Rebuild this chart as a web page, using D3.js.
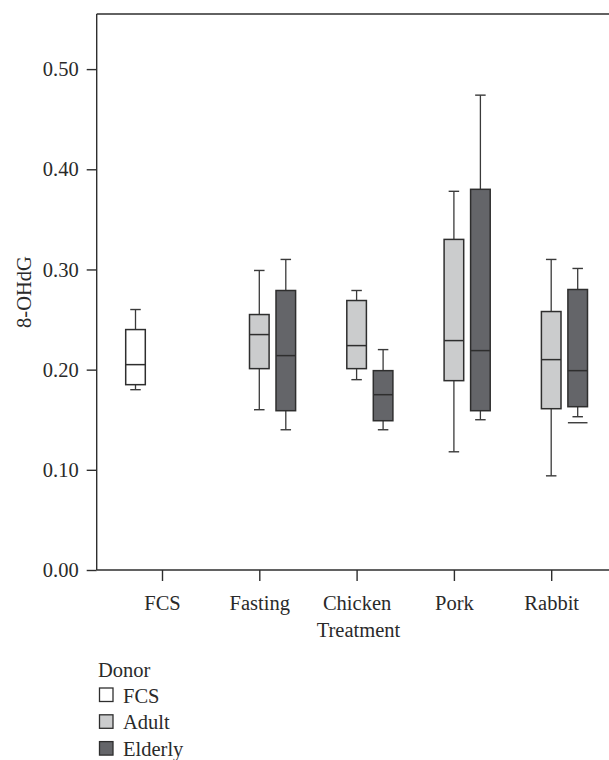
<!DOCTYPE html>
<html>
<head>
<meta charset="utf-8">
<script src="https://cdn.jsdelivr.net/npm/d3@7"></script>
<style>
  body { margin: 0; background: #fff; }
  svg { display: block; font-family: "Liberation Serif", "DejaVu Serif", serif; }
</style>
</head>
<body>
<div id="chart"></div>
<script>
// categories
const treatments = ['FCS', 'Fasting', 'Chicken', 'Pork', 'Rabbit'];
const donors = ['FCS', 'Adult', 'Elderly'];
const yTicks = [0, 0.1, 0.2, 0.3, 0.4, 0.5];

// one entry per box (treatment x donor)
const boxTreatment = ['FCS', 'Fasting', 'Fasting', 'Chicken', 'Chicken', 'Pork', 'Pork', 'Rabbit', 'Rabbit'];
const boxDonor = ['FCS', 'Adult', 'Elderly', 'Adult', 'Elderly', 'Adult', 'Elderly', 'Adult', 'Elderly'];
const whiskerLow = [0.180, 0.160, 0.140, 0.190, 0.140, 0.118, 0.150, 0.094, 0.153];
const q1 = [0.185, 0.201, 0.159, 0.201, 0.149, 0.189, 0.159, 0.161, 0.163];
const median = [0.205, 0.235, 0.214, 0.224, 0.175, 0.229, 0.219, 0.210, 0.199];
const q3 = [0.240, 0.255, 0.279, 0.269, 0.199, 0.330, 0.380, 0.258, 0.280];
const whiskerHigh = [0.260, 0.299, 0.310, 0.279, 0.220, 0.378, 0.474, 0.310, 0.301];

// extra values drawn as a bar under the box
const extraTreatment = ['Rabbit'];
const extraDonor = ['Elderly'];
const extraValue = [0.147];

const donorColors = ['#ffffff', '#cbcccd', '#646569'];

const width = 609, height = 760;
const plotLeft = 96.7, plotTop = 14, plotBottom = 570, plotRight = 640;
const ink = '#2e2e2e';

const svg = d3.select('#chart').append('svg')
  .attr('width', width)
  .attr('height', height);

const x = d3.scalePoint().domain(treatments).range([162, 551.2]);
const xSlot = d3.scalePoint().domain(donors).range([-26.5, 26.5]);
const y = d3.scaleLinear().domain([0, 0.555]).range([plotBottom, plotTop]);
const fill = d3.scaleOrdinal().domain(donors).range(donorColors);

const boxW = 19.6, capW = 10.5;

// frame: top line plus left / bottom axes
svg.append('line')
  .attr('x1', plotLeft).attr('x2', plotRight).attr('y1', plotTop).attr('y2', plotTop)
  .attr('stroke', ink).attr('stroke-width', 1.4);

const yAxis = svg.append('g')
  .attr('transform', `translate(${plotLeft},0)`)
  .call(d3.axisLeft(y).tickValues(yTicks).tickFormat(d3.format('.2f')).tickSize(10).tickPadding(8));
yAxis.select('.domain').attr('d', `M0,${plotTop}V${plotBottom}`);

const xAxis = svg.append('g')
  .attr('transform', `translate(0,${plotBottom})`)
  .call(d3.axisBottom(x).tickSize(11).tickPadding(14));
xAxis.select('.domain').attr('d', `M${plotLeft},0H${plotRight}`);

svg.selectAll('.domain, .tick line').attr('stroke', ink).attr('stroke-width', 1.4);
svg.selectAll('.tick text')
  .attr('fill', '#2a2a2a')
  .style('font-size', '20.5px')
  .style('font-family', '"Liberation Serif", "DejaVu Serif", serif');

svg.append('text')
  .attr('x', 358.5).attr('y', 637)
  .attr('text-anchor', 'middle')
  .attr('fill', '#2a2a2a')
  .style('font-size', '20.5px')
  .text('Treatment');

svg.append('text')
  .attr('transform', 'translate(31,292) rotate(-90)')
  .attr('text-anchor', 'middle')
  .attr('fill', '#2a2a2a')
  .style('font-size', '20.5px')
  .text('8-OHdG');

// boxes
const boxes = boxTreatment.map((t, i) => ({
  cx: x(t) + xSlot(boxDonor[i]),
  donor: boxDonor[i],
  lo: whiskerLow[i], q1: q1[i], med: median[i], q3: q3[i], hi: whiskerHigh[i]
}));

const g = svg.append('g').selectAll('g').data(boxes).enter().append('g');

g.append('line')
  .attr('x1', d => d.cx).attr('x2', d => d.cx)
  .attr('y1', d => y(d.hi)).attr('y2', d => y(d.q3))
  .attr('stroke', '#3a3a3a').attr('stroke-width', 1.3);
g.append('line')
  .attr('x1', d => d.cx).attr('x2', d => d.cx)
  .attr('y1', d => y(d.q1)).attr('y2', d => y(d.lo))
  .attr('stroke', '#3a3a3a').attr('stroke-width', 1.3);
g.append('line')
  .attr('x1', d => d.cx - capW / 2).attr('x2', d => d.cx + capW / 2)
  .attr('y1', d => y(d.hi)).attr('y2', d => y(d.hi))
  .attr('stroke', '#3a3a3a').attr('stroke-width', 1.4);
g.append('line')
  .attr('x1', d => d.cx - capW / 2).attr('x2', d => d.cx + capW / 2)
  .attr('y1', d => y(d.lo)).attr('y2', d => y(d.lo))
  .attr('stroke', '#3a3a3a').attr('stroke-width', 1.4);

g.append('rect')
  .attr('x', d => d.cx - boxW / 2)
  .attr('width', boxW)
  .attr('y', d => y(d.q3))
  .attr('height', d => y(d.q1) - y(d.q3))
  .attr('fill', d => fill(d.donor))
  .attr('stroke', ink).attr('stroke-width', 1.5);

g.append('line')
  .attr('x1', d => d.cx - boxW / 2).attr('x2', d => d.cx + boxW / 2)
  .attr('y1', d => y(d.med)).attr('y2', d => y(d.med))
  .attr('stroke', ink).attr('stroke-width', 1.5);

svg.append('g').selectAll('line')
  .data(extraValue.map((v, i) => ({ cx: x(extraTreatment[i]) + xSlot(extraDonor[i]), v })))
  .enter().append('line')
  .attr('x1', d => d.cx - boxW / 2).attr('x2', d => d.cx + boxW / 2)
  .attr('y1', d => y(d.v)).attr('y2', d => y(d.v))
  .attr('stroke', '#3a3a3a').attr('stroke-width', 1.4);

// legend
const legend = svg.append('g').attr('transform', 'translate(98,0)');
legend.append('text')
  .attr('x', 0).attr('y', 676.5)
  .attr('fill', '#2a2a2a')
  .style('font-size', '20.5px')
  .text('Donor');

const item = legend.selectAll('.item').data(donors).enter().append('g')
  .attr('class', 'item')
  .attr('transform', (d, i) => `translate(0,${688 + i * 26.8})`);
item.append('rect')
  .attr('x', 1.5).attr('y', 0)
  .attr('width', 13.5).attr('height', 13.5)
  .attr('fill', d => fill(d))
  .attr('stroke', ink).attr('stroke-width', 1.3);
item.append('text')
  .attr('x', 25).attr('y', 14.5)
  .attr('fill', '#2a2a2a')
  .style('font-size', '20.5px')
  .text(d => d);
</script>
</body>
</html>
